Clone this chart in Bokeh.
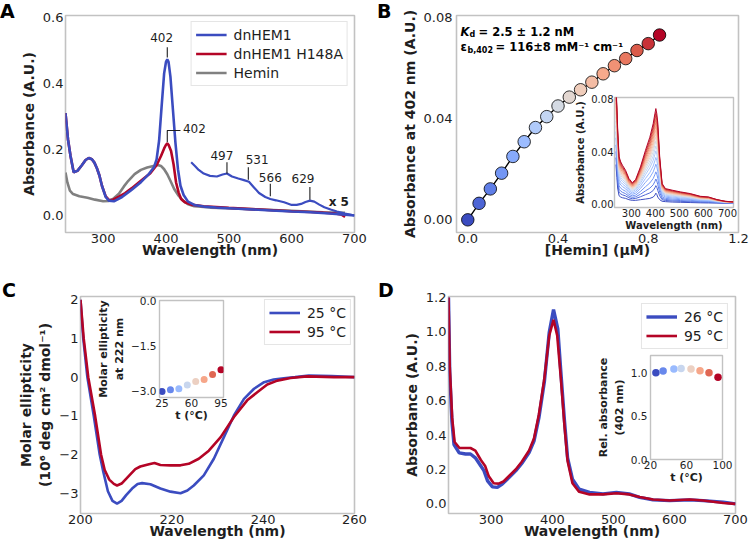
from bokeh.plotting import figure
from bokeh.models import (GridBox, Label, Legend, LegendItem, Range1d, Div,
                          FixedTicker, ColumnDataSource)
from bokeh.embed import file_html
from bokeh.resources import INLINE

FONT = "DejaVu Sans"
BLUE = "#3b4cc0"
RED = "#b40426"
GRAY = "#808080"
TXT = "#1e1e1e"

# ---------------- Panel A data ----------------
A_blue_nm = [240, 244, 248, 253, 259, 266, 272, 277, 282, 286, 290, 294, 298, 304, 309, 317, 330, 344, 360, 373,
             381, 385, 389, 393, 397, 400, 402, 404, 407, 411, 415, 419, 423, 428, 435, 445, 460, 480, 500, 530,
             560, 600, 630, 660, 690, 700]
A_blue_abs = [0.31, 0.23, 0.18, 0.131, 0.135, 0.152, 0.168, 0.174, 0.17, 0.16, 0.143, 0.121, 0.09, 0.056, 0.045,
              0.043, 0.056, 0.076, 0.101, 0.126, 0.147, 0.17, 0.227, 0.33, 0.43, 0.465, 0.472, 0.465, 0.42, 0.32,
              0.22, 0.14, 0.09, 0.062, 0.042, 0.032, 0.027, 0.024, 0.022, 0.019, 0.016, 0.012, 0.010, 0.006,
              0.002, 0.0]
A_red_nm = [240, 244, 248, 253, 259, 266, 272, 277, 282, 286, 290, 294, 298, 304, 309, 315, 325, 335, 345, 360,
            375, 385, 392, 397, 400, 402, 404, 408, 412, 416, 420, 424, 430, 440, 460, 500, 550, 600, 640, 670,
            680, 685]
A_red_abs = [0.31, 0.23, 0.18, 0.131, 0.135, 0.152, 0.168, 0.174, 0.17, 0.16, 0.143, 0.121, 0.09, 0.058, 0.047,
             0.047, 0.057, 0.068, 0.082, 0.105, 0.128, 0.152, 0.18, 0.203, 0.214, 0.218, 0.214, 0.195, 0.155, 0.1,
             0.07, 0.05, 0.04, 0.033, 0.028, 0.023, 0.018, 0.013, 0.01, 0.006, 0.002, -0.004]
A_hem_nm = [240, 243, 247, 252, 262, 275, 287, 300, 309, 317, 325, 333, 340, 350, 360, 370, 380, 387, 392, 397,
            402, 407, 413, 420, 427, 435, 445, 470, 500, 550, 600, 650, 685]
A_hem_abs = [0.13, 0.1, 0.075, 0.065, 0.058, 0.054, 0.048, 0.043, 0.044, 0.052, 0.066, 0.088, 0.105, 0.125, 0.138,
             0.145, 0.15, 0.153, 0.15, 0.14, 0.125, 0.105, 0.08, 0.06, 0.045, 0.034, 0.028, 0.024, 0.022, 0.018,
             0.014, 0.01, 0.008]
A_x5_nm = [440, 446, 452, 460, 470, 481, 490, 497, 505, 515, 524, 532, 540, 548, 558, 566, 575, 588, 600, 608,
           615, 622, 629, 636, 644, 652, 662, 672, 685, 700]
A_x5_abs = [0.161, 0.15, 0.138, 0.127, 0.12, 0.118, 0.124, 0.127, 0.118, 0.112, 0.107, 0.102, 0.085, 0.068, 0.056,
            0.05, 0.046, 0.04, 0.032, 0.032, 0.035, 0.041, 0.045, 0.042, 0.033, 0.025, 0.018, 0.012, 0.006, 0.0]
A_xticks = [300, 400, 500, 600, 700]
A_xlabels = ["300", "400", "500", "600", "700"]
A_yticks = [0.0, 0.2, 0.4, 0.6]
A_ylabels = ["0.0", "0.2", "0.4", "0.6"]
# peak annotations
A_tick402_x = [402, 402]
A_tick402_y = [0.478, 0.509]
A_label402_blue = (393, 0.538)
A_bracket_x = [402, 402, 423]
A_bracket_y = [0.222, 0.257, 0.257]
A_label402_red = (427, 0.262)
A_peak_nm = [497, 531, 566, 629]
A_peak_txt = ["497", "531", "566", "629"]
A_peak_tick_lo = [0.126, 0.108, 0.058, 0.048]
A_peak_tick_hi = [0.161, 0.146, 0.096, 0.086]
A_peak_label_x = [489, 545, 566, 618]
A_peak_label_y = [0.182, 0.169, 0.116, 0.113]
A_x5_pos = (675, 0.042)

# ---------------- Panel B data ----------------
B_hemin = [0.00, 0.05, 0.10, 0.15, 0.20, 0.25, 0.30, 0.35, 0.40, 0.45, 0.50, 0.55, 0.60, 0.65, 0.70, 0.75,
           0.80, 0.85]
B_abs402 = [0.0, 0.0065, 0.0122, 0.0184, 0.025, 0.0308, 0.0364, 0.0407, 0.0449, 0.0484, 0.0513, 0.0543, 0.0576,
            0.0608, 0.0636, 0.0668, 0.0695, 0.0729]
B_xticks = [0.0, 0.4, 0.8, 1.2]
B_xlabels = ["0.0", "0.4", "0.8", "1.2"]
B_yticks = [0.0, 0.04, 0.08]
B_ylabels = ["0.00", "0.04", "0.08"]
# inset: titration spectra (lowest and highest read, others follow the A402 values)
Bin_nm = [236, 240, 243, 249, 256, 263, 276, 290, 304, 318, 338, 359, 377, 391, 398, 402, 406, 410, 418, 428,
          442, 470, 504, 545, 587, 621, 656, 690, 724]
Bin_last = [0.09, 0.075, 0.058, 0.036, 0.032, 0.0295, 0.0256, 0.0193, 0.016, 0.0185, 0.0282, 0.041, 0.051,
            0.0615, 0.069, 0.073, 0.069, 0.062, 0.036, 0.0154, 0.0115, 0.0103, 0.009, 0.0077, 0.0056, 0.0051,
            0.0031, 0.0018, 0.0013]
Bin_first = [0.03, 0.02, 0.012, 0.006, 0.005, 0.0045, 0.004, 0.003, 0.0025, 0.0025, 0.003, 0.0035, 0.004, 0.005,
             0.0065, 0.008, 0.007, 0.005, 0.003, 0.0018, 0.0015, 0.0012, 0.001, 0.0008, 0.0006, 0.0005, 0.0004,
             0.0003, 0.0002]
Bin_xticks = [300, 400, 500, 600, 700]
Bin_xlabels = ["300", "400", "500", "600", "700"]
Bin_yticks = [0.0, 0.04, 0.08]
Bin_ylabels = ["0.00", "0.04", "0.08"]

# ---------------- Panel C data ----------------
C_nm_25 = [200, 200.6, 201.5, 202.9, 204.2, 205, 206, 207, 208, 209, 210, 211.3, 212.5, 213.5, 215.3, 217.5,
           219.7, 221.9, 223.4, 224.8, 227, 229.2, 231.4, 233.6, 235.8, 238, 240.2, 242.3, 244.5, 247, 250, 255,
           260]
C_ell_25 = [2.0, 1.0, 0.0, -1.0, -2.0, -2.45, -2.95, -3.2, -3.27, -3.2, -3.05, -2.88, -2.76, -2.74, -2.77, -2.88,
            -2.96, -3.0, -2.93, -2.8, -2.54, -2.11, -1.55, -0.99, -0.56, -0.3, -0.13, -0.06, -0.03, 0.0, 0.04,
            0.03, 0.0]
C_nm_95 = [200, 200.7, 201.7, 203.2, 204.5, 205.3, 206.3, 207.3, 208, 209, 210.6, 212, 213.1, 215, 216.2, 217.5,
           219.7, 221.9, 223.7, 225.9, 228.1, 230.7, 233.6, 236.5, 238.7, 240.9, 243.1, 246, 249.6, 255.5, 260]
C_ell_95 = [2.0, 1.0, 0.0, -1.0, -2.0, -2.4, -2.65, -2.76, -2.8, -2.75, -2.55, -2.38, -2.31, -2.25, -2.22, -2.27,
            -2.28, -2.28, -2.24, -2.11, -1.9, -1.55, -1.03, -0.6, -0.39, -0.19, -0.09, -0.02, 0.02, 0.0, 0.0]
C_xticks = [200, 220, 240, 260]
C_xlabels = ["200", "220", "240", "260"]
C_yticks = [-3, -2, -1, 0, 1, 2]
C_ylabels = ["\u22123", "\u22122", "\u22121", "0", "1", "2"]
Cin_t = [25, 35, 45, 55, 65, 75, 85, 95]
Cin_ell222 = [-3.01, -2.95, -2.92, -2.79, -2.68, -2.61, -2.44, -2.29]
Cin_xticks = [25, 60, 95]
Cin_xlabels = ["25", "60", "95"]
Cin_yticks = [-3.0, -1.5, 0.0]
Cin_ylabels = ["\u22123.0", "\u22121.5", "0.0"]

# ---------------- Panel D data ----------------
D_nm_26 = [230, 232, 235.6, 239, 247.5, 258, 266, 274, 283, 288, 294, 302, 310, 318, 329, 340, 351, 362, 370, 378,
           387, 395, 402, 409, 414, 420, 425, 433, 444, 461, 483, 505, 526, 543, 565, 592, 625, 647, 680, 700]
D_abs_26 = [1.2, 0.77, 0.48, 0.345, 0.297, 0.29, 0.29, 0.268, 0.22, 0.193, 0.134, 0.099, 0.096, 0.115, 0.153,
            0.192, 0.24, 0.298, 0.365, 0.5, 0.71, 0.998, 1.13, 1.018, 0.768, 0.48, 0.268, 0.144, 0.086, 0.067,
            0.058, 0.067, 0.058, 0.038, 0.023, 0.019, 0.023, 0.019, 0.01, 0.0]
D_nm_95 = [230, 232, 236, 240, 248, 258, 266, 274, 283, 290, 296, 304, 312, 320, 330, 340, 350, 362, 370, 378,
           387, 395, 402, 408, 414, 420, 425, 433, 444, 461, 483, 505, 526, 543, 565, 592, 625, 647, 680, 700]
D_abs_95 = [1.2, 0.8, 0.5, 0.36, 0.325, 0.325, 0.325, 0.31, 0.255, 0.22, 0.16, 0.12, 0.118, 0.13, 0.165, 0.2,
            0.245, 0.31, 0.38, 0.52, 0.73, 0.98, 1.07, 0.98, 0.73, 0.45, 0.25, 0.12, 0.07, 0.055, 0.055, 0.062,
            0.055, 0.04, 0.025, 0.02, 0.025, 0.02, 0.005, 0.0]
D_xticks = [300, 400, 500, 600, 700]
D_xlabels = ["300", "400", "500", "600", "700"]
D_yticks = [0.0, 0.2, 0.4, 0.6, 0.8, 1.0, 1.2]
D_ylabels = ["0.0", "0.2", "0.4", "0.6", "0.8", "1.0", "1.2"]
Din_t = [26, 34, 46, 54, 65, 75, 85, 95]
Din_rel = [1.0, 1.02, 1.045, 1.05, 1.045, 1.025, 1.0, 0.95]
Din_xticks = [20, 60, 100]
Din_xlabels = ["20", "60", "100"]
Din_yticks = [0.0, 0.5, 1.0]
Din_ylabels = ["0.0", "0.5", "1.0"]

# ---------------- helpers ----------------
CW = ["#3b4cc0", "#5977e3", "#7b9ff9", "#9ebeff", "#c0d4f5", "#dddcdc",
      "#f2cbb7", "#f7ac8e", "#ee8468", "#d65244", "#b40426"]


def coolwarm(t):
    pos = max(0.0, min(1.0, t)) * 10
    i = min(int(pos), 9)
    f = pos - i
    c0 = [int(CW[i][k:k + 2], 16) for k in (1, 3, 5)]
    c1 = [int(CW[i + 1][k:k + 2], 16) for k in (1, 3, 5)]
    return "#%02x%02x%02x" % tuple(round(a + (b - a) * f) for a, b in zip(c0, c1))


def make_fig(w, h, xr, yr, borders, tick_size="13px", label_size="14px",
             xstd=(1, -4), ystd=(2, 3), inset=False):
    bl, br, bt, bb = borders
    p = figure(width=w, height=h, x_range=Range1d(*xr), y_range=Range1d(*yr),
               output_backend="svg", toolbar_location=None,
               min_border_left=bl, min_border_right=br,
               min_border_top=bt, min_border_bottom=bb)
    p.xgrid.visible = False
    p.ygrid.visible = False
    p.outline_line_color = "#c2c2c2"
    p.outline_line_width = 1.4 if inset else 1.6
    p.background_fill_color = "white"
    if inset:
        p.border_fill_alpha = 0.0
    for ax, (std, lstd) in ((p.xaxis[0], xstd), (p.yaxis[0], ystd)):
        ax.axis_line_color = None
        ax.major_tick_line_color = None
        ax.minor_tick_line_color = None
        ax.major_tick_out = 0
        ax.major_tick_in = 0
        ax.major_label_standoff = std
        ax.axis_label_standoff = lstd
        ax.major_label_text_font = FONT
        ax.major_label_text_font_size = tick_size
        ax.major_label_text_color = TXT
        ax.axis_label_text_font = FONT
        ax.axis_label_text_font_size = label_size
        ax.axis_label_text_font_style = "bold"
        ax.axis_label_text_color = TXT
    return p


def set_ticks(axis, vals, labels):
    axis.ticker = FixedTicker(ticks=vals)
    axis.major_label_overrides = {v: l for v, l in zip(vals, labels)}


def letter_div(txt, pad_top, pad_left):
    return Div(text=txt, width=26, height=26,
               styles={"font-family": FONT, "font-size": "19px", "font-weight": "bold",
                       "line-height": "1", "color": "black", "padding-top": "%dpx" % pad_top,
                       "padding-left": "%dpx" % pad_left, "margin": "0", "overflow": "visible"})


def legend(p, items, margin):
    lg = Legend(items=items, location="top_right", orientation="vertical")
    lg.label_text_font = FONT
    lg.label_text_font_size = "14px"
    lg.label_text_color = TXT
    lg.glyph_width = 31
    lg.glyph_height = 17
    lg.label_height = 17
    lg.label_standoff = 7
    lg.spacing = 2
    lg.padding = 4
    lg.margin = margin
    lg.border_line_color = "#cccccc"
    lg.border_line_width = 1
    lg.background_fill_color = "white"
    lg.background_fill_alpha = 0.85
    p.add_layout(lg)


def text(p, x, y, s, size="12px", align="center", style="normal", baseline="middle"):
    p.add_layout(Label(x=x, y=y, text=s, text_font=FONT, text_font_size=size,
                       text_font_style=style, text_align=align, text_baseline=baseline,
                       text_color=TXT))


# ---------------- Panel A ----------------
pA = make_fig(370, 274, (240, 700), (-0.0514, 0.6051), (65, 16, 15, 42))
pA.xaxis.axis_label = "Wavelength (nm)"
pA.yaxis.axis_label = "Absorbance (A.U.)"
set_ticks(pA.xaxis[0], A_xticks, A_xlabels)
set_ticks(pA.yaxis[0], A_yticks, A_ylabels)
rA_h = pA.line(A_hem_nm, A_hem_abs, line_color=GRAY, line_width=2.6)
rA_r = pA.line(A_red_nm, A_red_abs, line_color=RED, line_width=2.6)
rA_b = pA.line(A_blue_nm, A_blue_abs, line_color=BLUE, line_width=2.6)
pA.line(A_x5_nm, A_x5_abs, line_color=BLUE, line_width=2.2)
pA.line(A_tick402_x, A_tick402_y, line_color=TXT, line_width=1.1)
pA.line(A_bracket_x, A_bracket_y, line_color=TXT, line_width=1.1)
pA.segment(x0=A_peak_nm, x1=A_peak_nm, y0=A_peak_tick_lo, y1=A_peak_tick_hi,
           line_color=TXT, line_width=1.1)
text(pA, A_label402_blue[0], A_label402_blue[1], "402")
text(pA, A_label402_red[0], A_label402_red[1], "402", align="left")
for xx, yy, s in zip(A_peak_label_x, A_peak_label_y, A_peak_txt):
    text(pA, xx, yy, s)
text(pA, A_x5_pos[0], A_x5_pos[1], "x 5", style="bold")
legend(pA, [LegendItem(label="dnHEM1", renderers=[rA_b]),
            LegendItem(label="dnHEM1 H148A", renderers=[rA_r]),
            LegendItem(label="Hemin", renderers=[rA_h])], 6)

# ---------------- Panel B ----------------
pB = make_fig(376, 274, (-0.05, 1.2), (-0.005, 0.0806), (82, 12, 15, 42), ystd=(4, 3))
pB.xaxis.axis_label = "[Hemin] (\u00b5M)"
pB.yaxis.axis_label = "Absorbance at 402 nm (A.U.)"
set_ticks(pB.xaxis[0], B_xticks, B_xlabels)
set_ticks(pB.yaxis[0], B_yticks, B_ylabels)
nB = len(B_hemin)
srcB = ColumnDataSource(dict(x=B_hemin, y=B_abs402,
                             c=[coolwarm(i / (nB - 1)) for i in range(nB)]))
pB.line("x", "y", source=srcB, line_color="black", line_width=1.4)
pB.scatter("x", "y", source=srcB, size=12.5, fill_color="c", line_color="black", line_width=0.8)
for (x, y, s, sz, st) in [(4, 201, "K", "11.5px", "bold italic"),
                          (13, 198, "d", "8px", "bold"),
                          (22, 201, "= 2.5 \u00b1 1.2 nM", "11.5px", "bold"),
                          (4, 186, "\u03b5", "11.5px", "bold"),
                          (11, 182.5, "b,402", "8px", "bold"),
                          (39, 186, "= 116\u00b18 mM\u207b\u00b9 cm\u207b\u00b9", "11.5px", "bold")]:
    pB.add_layout(Label(x=x, y=y, x_units="screen", y_units="screen", text=s,
                        text_font=FONT, text_font_size=sz, text_font_style=st,
                        text_color="black", text_align="left", text_baseline="alphabetic"))

# inset B
iB = make_fig(174, 144, (230, 725), (-0.003, 0.0815), (45, 10, 6, 28),
              tick_size="10px", label_size="10px", xstd=(1, 0), ystd=(1, 2), inset=True)
iB.xaxis.axis_label = "Wavelength (nm)"
iB.yaxis.axis_label = "Absorbance (A.U.)"
set_ticks(iB.xaxis[0], Bin_xticks, Bin_xlabels)
set_ticks(iB.yaxis[0], Bin_yticks, Bin_ylabels)
xs, ys, cs = [], [], []
for i, a in enumerate(B_abs402):
    f = a / B_abs402[-1]
    xs.append(Bin_nm)
    ys.append([lo + (hi - lo) * f for lo, hi in zip(Bin_first, Bin_last)])
    cs.append(coolwarm(i / (nB - 1)))
iB.multi_line(xs, ys, line_color=cs, line_width=1.0)

# ---------------- Panel C ----------------
pC = make_fig(368, 272, (200, 260), (-3.525, 2.085), (79, 15, 20, 35))
pC.xaxis.axis_label = "Wavelength (nm)"
pC.yaxis.axis_label = "Molar ellipticity\n(10\u2076 deg cm\u00b2 dmol\u207b\u00b9)"
set_ticks(pC.xaxis[0], C_xticks, C_xlabels)
set_ticks(pC.yaxis[0], C_yticks, C_ylabels)
rC_b = pC.line(C_nm_25, C_ell_25, line_color=BLUE, line_width=2.6)
rC_r = pC.line(C_nm_95, C_ell_95, line_color=RED, line_width=2.6)
legend(pC, [LegendItem(label="25 \u00b0C", renderers=[rC_b]),
            LegendItem(label="95 \u00b0C", renderers=[rC_r])], 3)

iC = make_fig(137, 139, (22, 98), (-3.21, 0.02), (60, 8, 8, 34),
              tick_size="10.5px", label_size="11px", xstd=(1, -1), ystd=(3, 2), inset=True)
iC.xaxis.axis_label = "t (\u00b0C)"
iC.yaxis.axis_label = "Molar ellipticity\nat 222 nm"
set_ticks(iC.xaxis[0], Cin_xticks, Cin_xlabels)
set_ticks(iC.yaxis[0], Cin_yticks, Cin_ylabels)
nC = len(Cin_t)
iC.scatter(Cin_t, Cin_ell222, size=7, line_color=None,
           fill_color=[coolwarm(i / (nC - 1)) for i in range(nC)])

# ---------------- Panel D ----------------
pD = make_fig(374, 272, (230, 700), (-0.056, 1.206), (73, 14, 20, 35))
pD.xaxis.axis_label = "Wavelength (nm)"
pD.yaxis.axis_label = "Absorbance (A.U.)"
set_ticks(pD.xaxis[0], D_xticks, D_xlabels)
set_ticks(pD.yaxis[0], D_yticks, D_ylabels)
rD_b = pD.line(D_nm_26, D_abs_26, line_color=BLUE, line_width=3.4)
rD_r = pD.line(D_nm_95, D_abs_95, line_color=RED, line_width=2.6)
legend(pD, [LegendItem(label="26 \u00b0C", renderers=[rD_b]),
            LegendItem(label="95 \u00b0C", renderers=[rD_r])], 7)

iD = make_fig(143, 144, (20, 100), (0.0, 1.2), (60, 11, 6, 34),
              tick_size="10.5px", label_size="11px", xstd=(1, -1), ystd=(3, 2), inset=True)
iD.xaxis.axis_label = "t (\u00b0C)"
iD.yaxis.axis_label = "Rel. absorbance\n(402 nm)"
set_ticks(iD.xaxis[0], Din_xticks, Din_xlabels)
set_ticks(iD.yaxis[0], Din_yticks, Din_ylabels)
nD = len(Din_t)
iD.scatter(Din_t, Din_rel, size=7.5, line_color=None,
           fill_color=[coolwarm(i / (nD - 1)) for i in range(nD)])

# panel letters
lA = letter_div("A", 2, 0)
lB = letter_div("B", 2, 3)
lC = letter_div("C", 5, 2)
lD = letter_div("D", 5, 4)

# ---------------- layout ----------------
# column lines: 0 1 94 231 369 370 374 375 569 590 733 743 749 750
COLS = [1, 93, 137, 138, 1, 4, 1, 194, 21, 143, 10, 6, 1]
# row lines: 0 91 235 274 276 292 349 431 493 548
ROWS = [91, 144, 39, 2, 16, 57, 82, 62, 55]
grid = GridBox(
    children=[(pA, 0, 0, 3, 5), (pB, 0, 6, 3, 7), (pC, 4, 1, 5, 3), (pD, 4, 7, 5, 5),
              (iB, 1, 8, 1, 3), (iC, 5, 2, 2, 1), (iD, 6, 9, 2, 1),
              (lA, 0, 0, 1, 2), (lB, 0, 6, 1, 2), (lC, 4, 0, 2, 2), (lD, 4, 6, 2, 2)],
    cols=["%dpx" % c for c in COLS],
    rows=["%dpx" % r for r in ROWS],
    spacing=0,
)

with open("out.html", "w") as fh:
    fh.write(file_html(grid, INLINE, title="dnHEM1"))
